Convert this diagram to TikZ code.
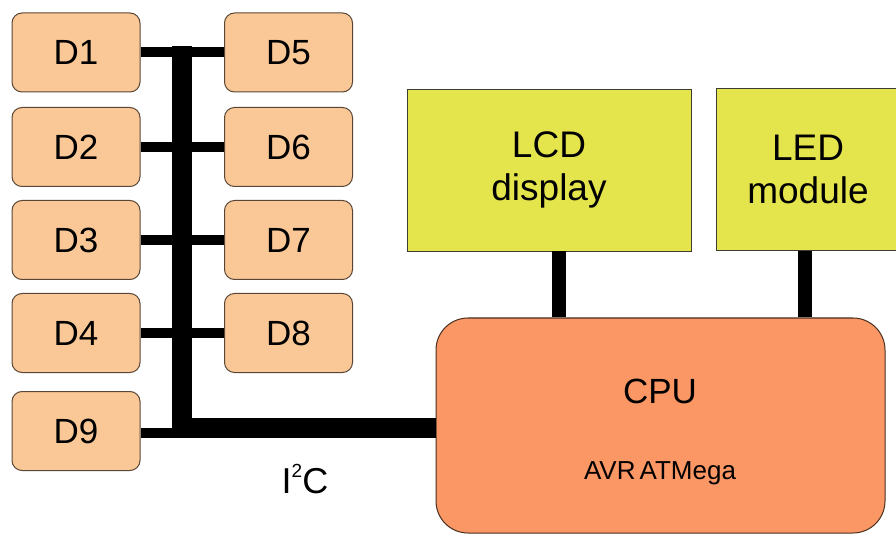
\documentclass[tikz,border=0pt]{standalone}
\usepackage{fontspec}
\setmainfont{Liberation Sans}
\definecolor{devfill}{HTML}{FAC896}
\definecolor{devline}{HTML}{5A4636}
\definecolor{dispfill}{HTML}{E4E44C}
\definecolor{displine}{HTML}{3C3C30}
\definecolor{cpufill}{HTML}{FA9764}
\definecolor{cpuline}{HTML}{4A3020}
\begin{document}
\begin{tikzpicture}[x=1pt,y=-1pt,
  device/.style={draw=devline, line width=1pt, fill=devfill, rounded corners=10pt,
    minimum width=128pt, minimum height=79pt, inner sep=0pt,
    font=\fontsize{35}{40}\selectfont},
  display/.style={draw=displine, line width=0.9pt, fill=dispfill, minimum height=162pt,
    inner sep=0pt, align=center, font=\fontsize{37}{43}\selectfont},
  cpubox/.style={draw=cpuline, line width=1pt, fill=cpufill, rounded corners=32pt,
    minimum width=449pt, minimum height=215pt, inner sep=0pt},
  txt/.style={anchor=base, inner sep=0pt},
  branch/.style={line width=10pt},
  bus/.style={line width=20pt, line join=miter},
  link/.style={line width=14pt}
]
\useasboundingbox (0,0) rectangle (896,534);
\fill[white] (0,0) rectangle (896,534);

% I2C devices, left column
\node[device] (d1) at (76,52.5) {D1};
\node[device] (d2) at (76,147) {D2};
\node[device] (d3) at (76,240) {D3};
\node[device] (d4) at (76,333) {D4};
\node[device] (d9) at (76,431) {D9};
% I2C devices, right column
\node[device] (d5) at (288.5,52.5) {D5};
\node[device] (d6) at (288.5,147) {D6};
\node[device] (d7) at (288.5,240) {D7};
\node[device] (d8) at (288.5,333) {D8};

% peripherals
\node[display, minimum width=284pt] (lcd) at (549,170) {LCD\\display};
\node[display, minimum width=184pt] (led) at (808,169.5) {LED\\module};

% processor
\node[cpubox] (cpu) at (660.5,425.5) {};
\node[txt, font=\fontsize{35}{40}\selectfont] (cputitle) at (660,403) {CPU};
\node[txt, font=\fontsize{26}{30}\selectfont] (cpusub) at (660,479) {AVR\hspace{-0.12em} ATMega};

% bus label
\node[txt, font=\fontsize{36}{40}\selectfont] (i2c) at (305,493)
  {I\raisebox{0.42em}{\fontsize{19}{20}\selectfont 2}C};

% I2C bus
\coordinate (bustop) at (182,46);
\coordinate (buscorner) at (182,428);
\foreach \d in {d1,d2,d3,d4} {
  \draw[branch] (\d.east) -- (\d.east -| bustop);
}
\draw[branch] ([yshift=-1.5pt]d9.east) -- ([yshift=-1.5pt]d9.east -| bustop);
\foreach \d in {d5,d6,d7,d8} {
  \draw[branch] (\d.west) -- (\d.west -| bustop);
}
\draw[bus] (bustop) -- (buscorner) -- (buscorner -| cpu.west);

% display links
\draw[link] ([xshift=10pt]lcd.south) -- ([xshift=10pt]lcd.south |- cpu.north);
\draw[link] ([xshift=-3.5pt]led.south) -- ([xshift=-3.5pt]led.south |- cpu.north);
\end{tikzpicture}
\end{document}
